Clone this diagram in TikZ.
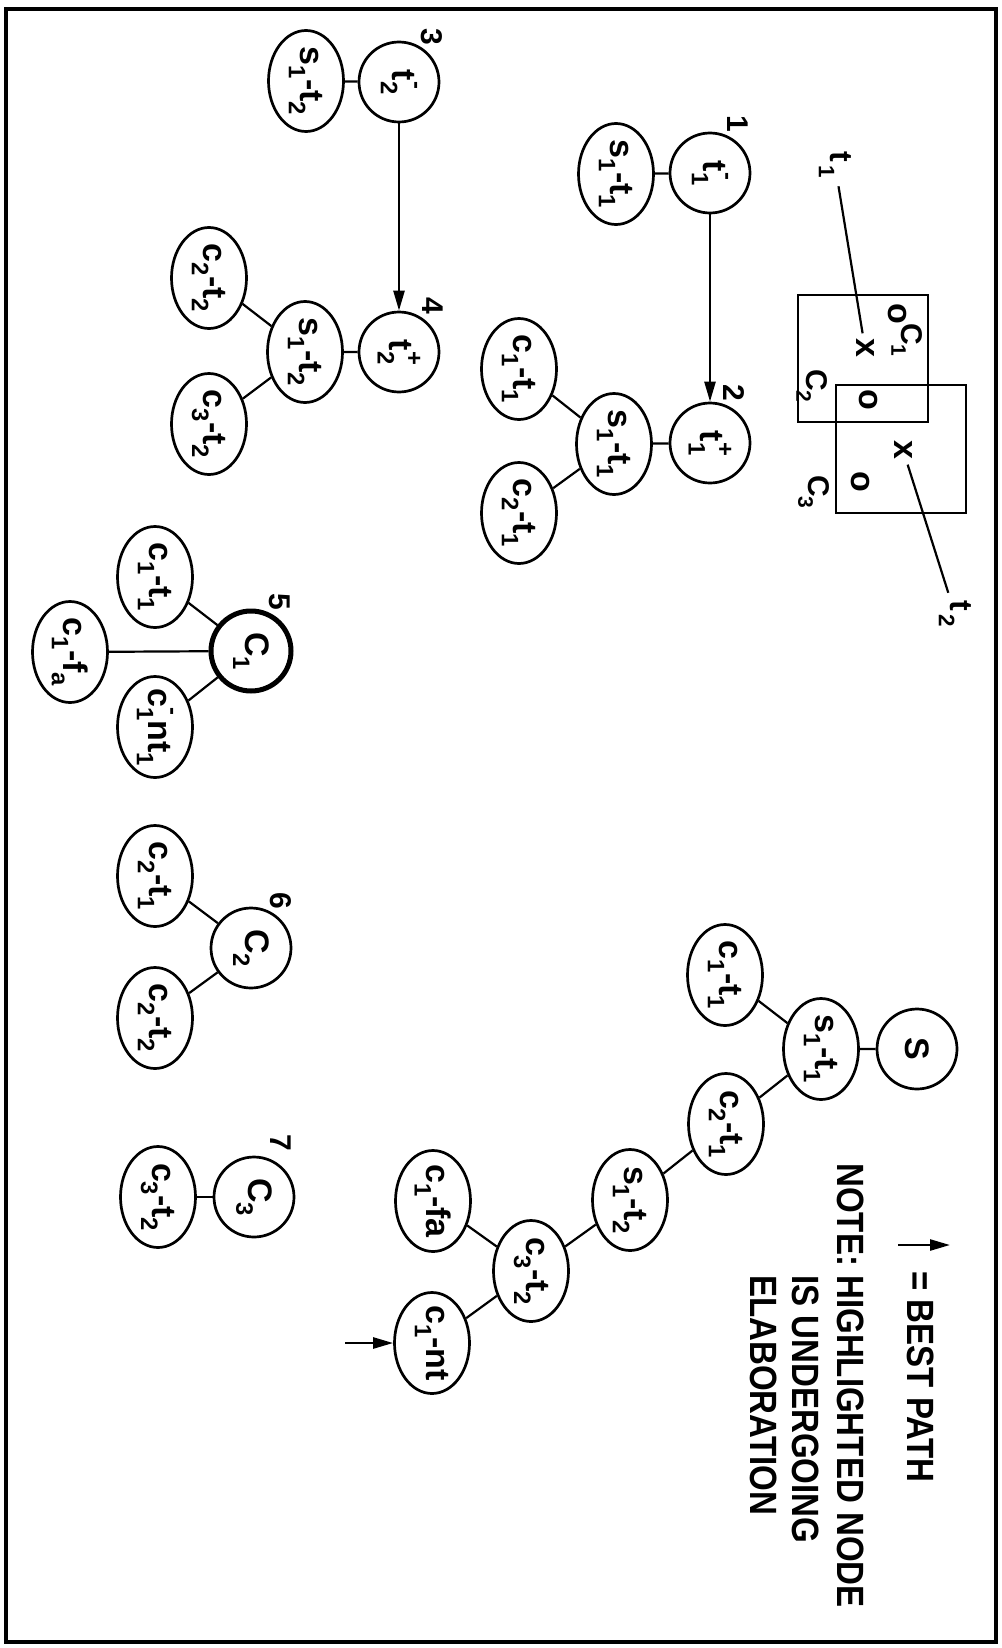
\documentclass[tikz,border=0pt]{standalone}
\usepackage{fontspec}
\usepackage{graphicx}
\usetikzlibrary{shapes.geometric,arrows.meta}
\newfontfamily\nodefont{Liberation Sans}
\newfontfamily\legfont{Liberation Sans}[FakeStretch=0.87]
\newcommand\lo[1]{\raisebox{-0.35em}{\scalebox{0.7}{#1}}}
\newcommand\hi[1]{\raisebox{0.5em}{\scalebox{0.7}{#1}}}
\newcommand\lohi[2]{\rlap{\lo{#1}}\rlap{\hi{#2}}\phantom{\scalebox{0.7}{#1}}}
\newcommand\bx[1]{\makebox[40pt]{#1}}
\begin{document}
\begin{tikzpicture}[x=1pt,y=1pt,
 every node/.append style={rotate=-90},
 circ/.style={circle,draw,line width=2.7pt,minimum size=80pt,inner sep=0pt,font=\nodefont\bfseries\fontsize{34}{36}\selectfont},
 ell/.style={ellipse,draw,line width=2.7pt,minimum width=101pt,minimum height=75pt,inner sep=0pt,font=\nodefont\bfseries\fontsize{34}{36}\selectfont},
 numlab/.style={inner sep=0pt,font=\nodefont\bfseries\fontsize{30}{32}\selectfont},
 xomark/.style={inner sep=5pt,font=\nodefont\bfseries\fontsize{34}{36}\selectfont},
 boxlab/.style={inner sep=2pt,font=\nodefont\bfseries\fontsize{30}{32}\selectfont},
 conn/.style={line width=2.2pt},
 arrowline/.style={line width=2.5pt,-{Triangle[length=20pt,width=11pt]}},
 leg/.style={anchor=base west,inner sep=0pt,font=\legfont\bfseries\fontsize{38}{44}\selectfont}
]
\fill[white] (0,0) rectangle (1001,-1648);
\useasboundingbox (0,0) rectangle (1001,-1648);
\draw[line width=4pt] (6,-9) rectangle (996,-1642);

% group 3/4
\node[circ] (n3) at (399,-82) {t\lohi{2}{-}};
\node[ell] (n3l) at (306,-81) {\bx{s\lo{1}-t\lo{2}}};
\node[numlab] (k3) at (432,-37) {3};
\node[circ] (n4) at (399,-352) {t\lohi{2}{+}};
\node[numlab] (k4) at (433,-306) {4};
\node[ell] (n4s) at (305,-352) {\bx{s\lo{1}-t\lo{2}}};
\node[ell] (n4a) at (209,-278) {\bx{c\lo{2}-t\lo{2}}};
\node[ell] (n4b) at (209,-424) {\bx{c\lo{3}-t\lo{2}}};
\draw[conn] (n3l)--(n3);
\draw[arrowline] (n3)--(n4);
\draw[conn] (n4s)--(n4) (n4s)--(n4a) (n4s)--(n4b);

% group 1/2
\node[circ] (n1) at (710,-173) {t\lohi{1}{-}};
\node[numlab] (k1) at (738,-124) {1};
\node[ell] (n1l) at (616,-174) {\bx{s\lo{1}-t\lo{1}}};
\node[circ] (n2) at (710,-443) {t\lohi{1}{+}};
\node[numlab] (k2) at (734,-393) {2};
\node[ell] (n2s) at (614,-444) {\bx{s\lo{1}-t\lo{1}}};
\node[ell] (n2a) at (519,-369) {\bx{c\lo{1}-t\lo{1}}};
\node[ell] (n2b) at (519,-513) {\bx{c\lo{2}-t\lo{1}}};
\draw[conn] (n1l)--(n1);
\draw[arrowline] (n1)--(n2);
\draw[conn] (n2s)--(n2) (n2s)--(n2a) (n2s)--(n2b);

% boxes
\draw[line width=2.5pt] (798,-295) rectangle (928,-422);
\draw[line width=2.5pt] (836,-385) rectangle (966,-513);
\node[xomark] (o1) at (897,-314) {o};
\node[boxlab] (c1l) at (907,-340) {C\lo{1}};
\node[xomark] (x1) at (865,-348) {x};
\node[boxlab] (c2l) at (812,-386) {C\lo{2}};
\node[xomark] (o2) at (868,-400) {o};
\node[xomark] (x2) at (903,-450) {x};
\node[xomark] (o3) at (860,-482) {o};
\node[boxlab] (c3l) at (814,-492) {C\lo{3}};
\node[boxlab,font=\nodefont\bfseries\fontsize{32}{34}\selectfont,inner sep=8pt] (t1l) at (835,-165) {t\kern3pt\lo{1}};
\node[boxlab,font=\nodefont\bfseries\fontsize{32}{34}\selectfont,inner sep=8pt] (t2l) at (955,-614) {t\kern3pt\lo{2}};
\draw[conn] (t1l)--(x1);
\draw[conn] (x2)--(t2l);

% group 5
\node[circ,line width=5pt] (n5) at (251,-651) {C\lo{1}};
\node[numlab] (k5) at (280,-602) {5};
\node[ell] (n5a) at (155,-577) {\bx{c\lo{1}-t\lo{1}}};
\node[ell] (n5b) at (70,-652) {\bx{c\lo{1}-f\lo{a}}};
\node[ell] (n5c) at (155,-727) {\bx{c\lohi{1}{-}nt\lo{1}}};
\draw[conn] (n5)--(n5a) (n5)--(n5b) (n5)--(n5c);

% group 6
\node[circ] (n6) at (251,-948) {C\lo{2}};
\node[numlab] (k6) at (281,-901) {6};
\node[ell] (n6a) at (155,-876) {\bx{c\lo{2}-t\lo{1}}};
\node[ell] (n6b) at (155,-1018) {\bx{c\lo{2}-t\lo{2}}};
\draw[conn] (n6)--(n6a) (n6)--(n6b);

% group 7
\node[circ] (n7) at (254,-1197) {C\lo{3}};
\node[numlab] (k7) at (281,-1143) {7};
\node[ell] (n7l) at (158,-1197) {\bx{c\lo{3}-t\lo{2}}};
\draw[conn] (n7)--(n7l);

% right chain
\node[circ] (nS) at (917,-1049) {S};
\node[ell] (r1) at (821,-1049) {\bx{s\lo{1}-t\lo{1}}};
\node[ell] (r2) at (725,-975) {\bx{c\lo{1}-t\lo{1}}};
\node[ell] (r3) at (726,-1124) {\bx{c\lo{2}-t\lo{1}}};
\node[ell] (r4) at (630,-1200) {\bx{s\lo{1}-t\lo{2}}};
\node[ell] (r5) at (531,-1271) {\bx{c\lo{3}-t\lo{2}}};
\node[ell] (r6) at (433,-1201) {\bx{c\lo{1}-fa}};
\node[ell] (r7) at (432,-1343) {\bx{c\lo{1}-nt}};
\draw[conn] (nS)--(r1) (r1)--(r2) (r1)--(r3) (r3)--(r4) (r4)--(r5) (r5)--(r6) (r5)--(r7);
\coordinate (bp) at (345,-1343);
\draw[arrowline] (bp)--(r7);

% legend
\coordinate (la) at (898,-1245);
\coordinate (lb) at (950,-1245);
\draw[arrowline] (la)--(lb);
\node[leg] (l1) at (907,-1271) {= BEST PATH};
\node[leg] (l2) at (837,-1163) {NOTE: HIGHLIGHTED NODE};
\node[leg] (l3) at (792,-1275) {IS UNDERGOING};
\node[leg] (l4) at (750,-1275) {ELABORATION};
\end{tikzpicture}
\end{document}
